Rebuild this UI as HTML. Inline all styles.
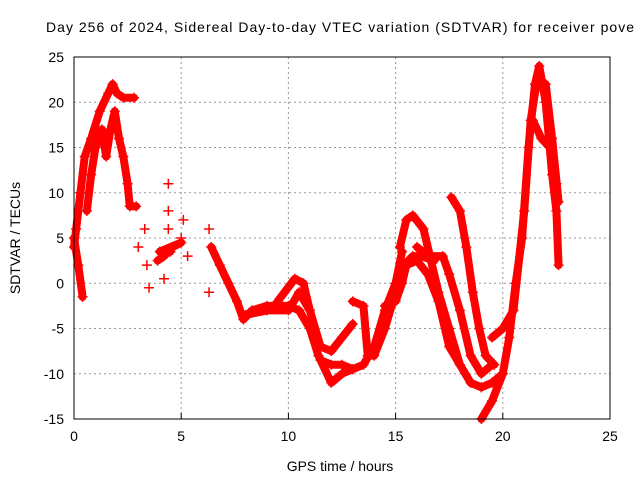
<!DOCTYPE html>
<html><head><meta charset="utf-8"><style>
body{margin:0;background:#fff}
svg{display:block;font-family:"Liberation Sans",sans-serif}
</style></head><body>
<svg id="chart" width="640" height="480">
<rect width="640" height="480" fill="#fff"/>
<text x="46" y="32" font-size="14" textLength="588" lengthAdjust="spacing" fill="#000">Day 256 of 2024, Sidereal Day-to-day VTEC variation (SDTVAR) for receiver pove</text>
<g id="grid"></g><g id="marks"></g><g id="axes"></g>
<text x="340" y="471" font-size="14" text-anchor="middle">GPS time / hours</text>
<text x="20" y="238" font-size="14" text-anchor="middle" transform="rotate(-90 20 238)">SDTVAR / TECUs</text>
</svg>
<script>
const xTicks=[0,5,10,15,20,25];
const yTicks=[-15,-10,-5,0,5,10,15,20,25];
const traceA=[[0,4],[0.1,6],[0.3,10],[0.5,14],[0.8,16],[1.2,19],[1.6,21],[1.8,22],[2.0,21],[2.3,20.5],[2.8,20.5]];
const traceB=[[0.6,8],[0.8,12],[1.0,15],[1.3,17],[1.5,14],[1.7,17],[1.9,19],[2.1,16],[2.3,14],[2.5,11],[2.6,8.5],[2.9,8.5]];
const traceC=[[0,5],[0.2,2],[0.4,-1.5]];
const traceBlob=[[3.9,2.5],[4.2,3],[4.6,4],[5.0,4.5],[4.0,3.5],[4.5,3.5]];
const scatter=[[3.0,4],[3.3,6],[3.4,2],[3.5,-0.5],[4.2,0.5],[4.4,11],[4.4,8],[5.0,5],[5.1,7],[5.3,3],[4.4,6],[6.3,6],[6.3,-1]];
const traceD=[[6.4,4],[6.8,2],[7.2,0],[7.6,-2],[7.9,-4],[8.3,-3],[9,-2.5],[10,-2.5],[10.5,-3],[11,-5],[11.4,-8],[12,-11],[12.5,-10],[13.0,-9.5]];
const traceE=[[8,-3.5],[9,-3],[10,-3],[10.5,-1],[11,-3],[11.5,-7],[12,-7.5],[12.5,-6],[13,-4.5]];
const traceF=[[9.5,-2],[10.3,0.5],[10.7,0],[11,-3]];
const traceG=[[11.5,-8.5],[12,-9],[12.5,-9],[13,-9.5],[13.5,-9],[14,-7],[14.5,-3],[15,0],[15.3,3.5]];
const traceH=[[13,-2],[13.5,-2.5],[13.7,-8],[14,-8],[14.5,-5],[15,-1],[15.4,2],[15.8,3],[16.2,3],[16.8,2.5]];
const traceI=[[15.2,4],[15.5,7],[15.8,7.5],[16.3,6],[16.6,3],[17,-1],[17.5,-5],[18,-9],[18.5,-11],[19,-11.5],[19.5,-11],[20,-10]];
const traceJ=[[14.5,-2.5],[15,-2],[15.3,0],[15.5,2],[16,2.5],[16.5,1],[17,-2],[17.5,-7],[18,-9]];
const traceK=[[16,4],[16.5,3],[17.2,3],[17.5,1],[18,-3],[18.5,-8],[19,-10],[19.5,-9]];
const traceL=[[17.6,9.5],[18,8],[18.3,4],[18.6,-1],[18.9,-5],[19.2,-8],[19.6,-9]];
const traceM=[[19,-15],[19.5,-13],[20,-10],[20.3,-6],[20.6,0],[20.9,5],[21.2,15],[21.5,22],[21.7,24],[22,20],[22.3,12],[22.5,8],[22.6,2]];
const traceN=[[19.5,-6],[20,-5],[20.5,-3],[21,8],[21.3,18],[21.6,22.5],[22,22],[22.3,16],[22.6,9]];
const traceO=[[21.4,18],[21.8,16],[22.2,15],[22.5,11]];
const traces=[traceA,traceB,traceC,traceBlob,traceD,traceE,traceF,traceG,traceH,traceI,traceJ,traceK,traceL,traceM,traceN,traceO];
const L=74,R=610,T=57,B=419;
const sx=v=>L+(v-0)/25*(R-L);
const sy=v=>B-(v+15)/40*(B-T);
const NS="http://www.w3.org/2000/svg";
const grid=document.getElementById('grid'),marks=document.getElementById('marks'),axes=document.getElementById('axes');
function mk(tag,at,p){const e=document.createElementNS(NS,tag);for(const k in at)e.setAttribute(k,at[k]);p.appendChild(e);return e;}
xTicks.forEach(t=>{
 if(t>0&&t<25){const g=mk('line',{x1:sx(t),x2:sx(t),y1:T,y2:B,stroke:'#999','stroke-dasharray':'2,3'},grid);
 
 }
 const tl=mk('line',{x1:sx(t),x2:sx(t),y1:B,y2:B-6,stroke:'#000'},axes);
 
 
 const tx=mk('text',{x:sx(t),y:B+22,'font-size':14,'text-anchor':'middle'},axes);tx.textContent=t;
 
 
});
yTicks.forEach(v=>{
 if(v>-15&&v<25){const g=mk('line',{x1:L,x2:R,y1:sy(v),y2:sy(v),stroke:'#999','stroke-dasharray':'2,3'},grid);
 
 }
 const tx=mk('text',{x:L-10,y:sy(v)+5,'font-size':14,'text-anchor':'end'},axes);tx.textContent=v;
 
 
});
const fr=mk('rect',{x:L,y:T,width:R-L,height:B-T,fill:'none',stroke:'#000'},axes);


traces.forEach(tr=>{
 const pl=mk('polyline',{points:tr.map(p=>sx(p[0])+','+sy(p[1])).join(' '),fill:'none',stroke:'#f00','stroke-width':8,'stroke-linejoin':'round','stroke-linecap':'round'},marks);
 
 
});
traces.concat([scatter]).forEach(tr=>tr.forEach(p=>{
 const x=sx(p[0]),y=sy(p[1]);
 const m=mk('path',{d:`M${x-5},${y}H${x+5}M${x},${y-5}V${y+5}`,stroke:'#f00','stroke-width':1.5},marks);
 
 
}));
</script>
</body></html>
